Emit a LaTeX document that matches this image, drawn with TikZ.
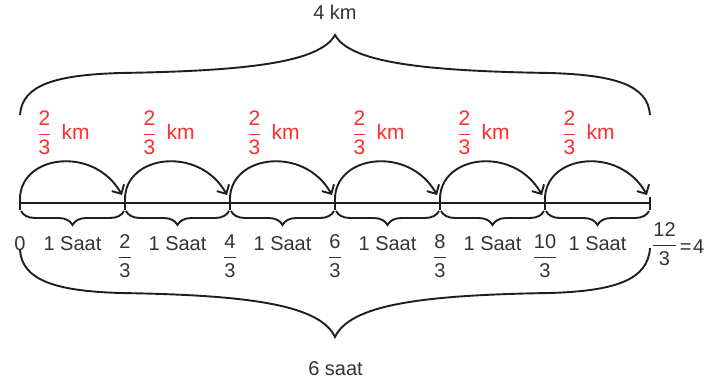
\documentclass[tikz,border=0pt]{standalone}
\usepackage{fontspec}
\setmainfont{Liberation Sans}
\usepackage{amsmath}
\usetikzlibrary{arrows.meta,decorations.pathreplacing,calc}
\definecolor{ink}{RGB}{30,30,30}
\definecolor{txt}{RGB}{51,51,51}
\definecolor{kmred}{RGB}{255,45,45}
% fraction with digits in the text font
\newcommand\fr[2]{$\dfrac{\text{#1}}{\text{#2}}$}
\begin{document}
\begin{tikzpicture}[x=1pt,y=-1pt,
  line/.style={draw=ink,line width=1.9pt},
  jump/.style={line,-{Straight Barb[length=7pt,width=14pt,line width=1.9pt]}},
  smallbrace/.style={line,decorate,decoration={brace,mirror,amplitude=14pt}},
  lab/.style={inner sep=0pt,text=txt,font=\fontsize{20}{24}\selectfont},
  redlab/.style={inner sep=0pt,text=kmred,font=\fontsize{21}{25}\selectfont}]
\useasboundingbox (0,0) rectangle (713,382);

% points of the number line
\foreach \i in {0,...,6} {
  \coordinate (t\i) at (20+105*\i,203);
  \coordinate (up\i) at (20+105*\i,199);
  \coordinate (tip\i) at (17+105*\i,195);
}

% number line with ticks
\draw[line] (t0) -- (t6);
\foreach \i in {0,...,6}
  \draw[line] ($(t\i)+(0,-6)$) -- ($(t\i)+(0,7)$);

% jumps, small braces and labels of each segment
\foreach \i [evaluate=\i as \j using int(\i+1)] in {0,...,5} {
  \draw[jump] (up\i) .. controls +(0,-44) and +(-28,-50) .. (tip\j);
  \draw[smallbrace] ($(t\i)+(1,8)$) -- ($(t\j)+(-1,8)$);
  \node[lab,anchor=base] (saat\i) at (72.5+105*\i,251) {1 Saat};
  \node[redlab,anchor=base] (km\i) at (63.5+105*\i,140) {\fr{2}{3}\hspace{10pt}km};
}

% values at the ticks
\node[lab,anchor=base] (v0) at (20,251) {0};
\foreach \i/\n in {1/2,2/4,3/6,4/8,5/10}
  \node[lab,anchor=base] (v\i) at (20+105*\i,263) {\fr{\n}{3}};
\node[lab,anchor=base west] (v6) at (652,254)
  {\raisebox{3pt}{\fr{12}{3}}\hspace{3pt}=\hspace{1.5pt}4};

% brace over the whole distance
\coordinate (ta) at (20,115);
\coordinate (tm) at (335,35);
\coordinate (tb) at (650,115);
\draw[line] (ta) .. controls (22,85) and (55,75) .. (120,73)
  .. controls (250,71) and (320,62) .. (tm)
  .. controls (350,62) and (420,71) .. (550,73)
  .. controls (615,75) and (648,85) .. (tb);
\node[lab,anchor=base] (dist) at (335,20) {4 km};

% brace under the whole time
\coordinate (ba) at (20,250);
\coordinate (bm) at (335,337);
\coordinate (bb) at (650,248);
\draw[line] (ba) .. controls (22,280) and (55,291) .. (120,293)
  .. controls (250,295) and (320,305) .. (bm)
  .. controls (350,305) and (420,295) .. (550,293)
  .. controls (615,291) and (648,280) .. (bb);
\node[lab,anchor=base] (time) at (335.5,376) {6 saat};
\end{tikzpicture}
\end{document}
